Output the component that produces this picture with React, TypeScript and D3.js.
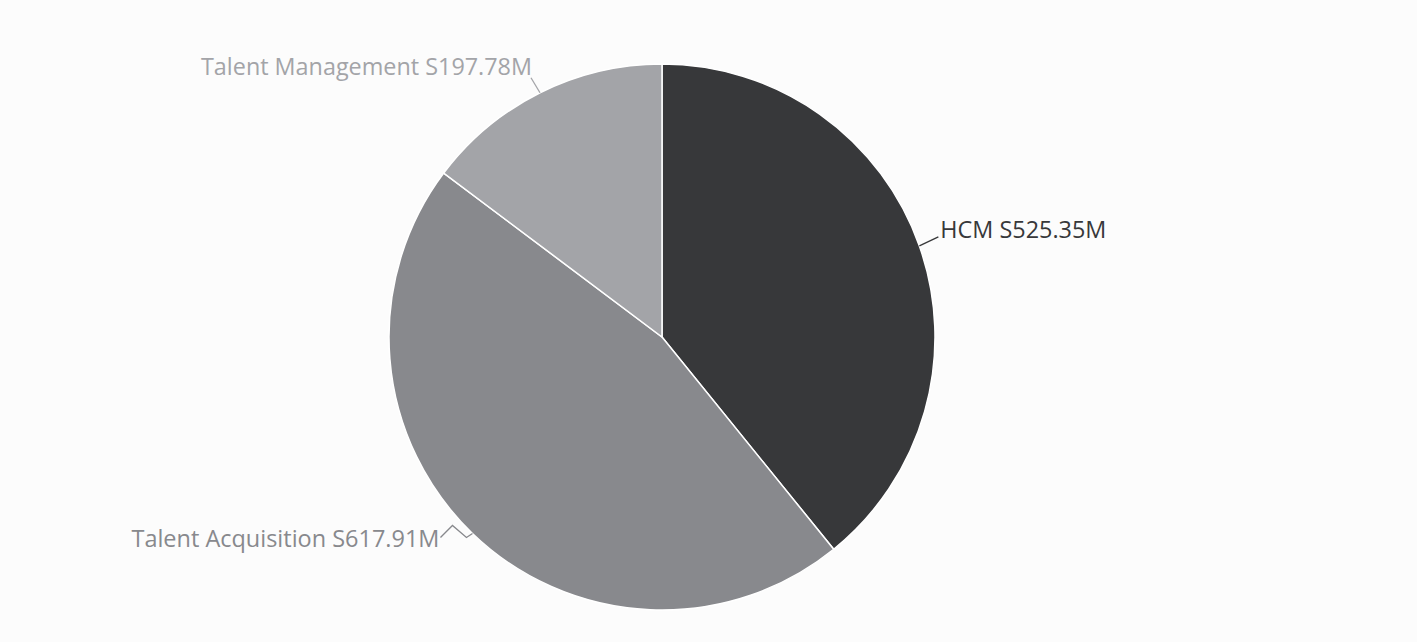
import React from "react";
import * as d3 from "d3";

const categories = ["HCM", "Talent Acquisition", "Talent Management"];
const values = [525.35, 617.91, 197.78];
const labels = ["HCM S525.35M", "Talent Acquisition S617.91M", "Talent Management S197.78M"];
const colors = ["#37383a", "#88898d", "#a3a4a8"];
const labelColors = ["#37383a", "#88898d", "#a3a4a8"];

const W = 1417;
const H = 642;
const cx = 662;
const cy = 337;
const R = 273;

// leader-line offsets relative to the slice's outer mid point (dx, dy pairs), and label anchor
const leaders: { pts: [number, number][]; anchor: "start" | "end"; tx: number; ty: number; len: number }[] = [
  { pts: [[0, 0], [19, -9]], anchor: "start", tx: 21, ty: -8, len: 166 },
  { pts: [[0, 0], [-6, 4], [-20, -8], [-32, 4]], anchor: "end", tx: -33, ty: 14, len: 308 },
  { pts: [[0, 0], [-9, -15]], anchor: "end", tx: -8, ty: -18, len: 331 },
];

export default function App() {
  const data = categories.map((c, i) => ({ c, v: values[i], i }));
  const pie = d3.pie<any>().value((d) => d.v).sort(null).startAngle(0).endAngle(2 * Math.PI);
  const arcs = pie(data);
  const arc = d3.arc<any>().innerRadius(0).outerRadius(R);
  return (
    <svg width={W} height={H} style={{ position: "absolute", left: 0, top: 0, background: "#fcfcfc" }}>
      <rect x={0} y={0} width={W} height={H} fill="#fcfcfc" />
      <g transform={`translate(${cx},${cy})`}>
        {arcs.map((a, i) => (
          <path key={i} d={arc(a) || ""} fill={colors[i]} stroke="#ffffff" strokeWidth={1.5} />
        ))}
        {arcs.map((a, i) => {
          const mid = (a.startAngle + a.endAngle) / 2;
          const ox = R * Math.sin(mid);
          const oy = -R * Math.cos(mid);
          const L = leaders[i];
          const line = d3.line()(L.pts.map(([dx, dy]) => [ox + dx, oy + dy]));
          return (
            <g key={"l" + i}>
              <path d={line || ""} fill="none" stroke={labelColors[i]} strokeWidth={1.3} />
              <text
                x={ox + L.tx}
                y={oy + L.ty}
                textAnchor={L.anchor}
                fill={labelColors[i]}
                fontFamily="'Open Sans', 'Noto Sans', sans-serif"
                fontSize={23}
                textLength={L.len}
                lengthAdjust="spacingAndGlyphs"
              >
                {labels[i]}
              </text>
            </g>
          );
        })}
      </g>
    </svg>
  );
}
